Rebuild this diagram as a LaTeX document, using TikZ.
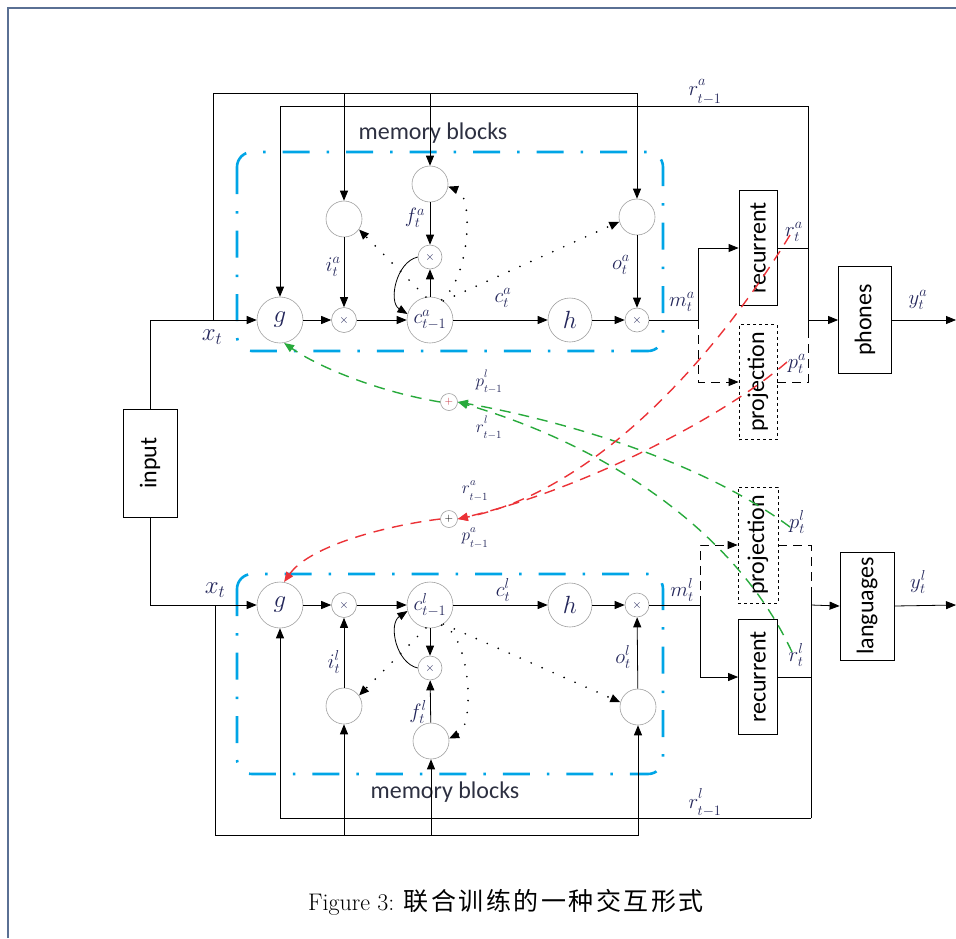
\documentclass[tikz,border=0pt]{standalone}
\usepackage{fontspec}
\usepackage{graphicx}
\setsansfont{Carlito}
\newfontfamily\cjkfont[LetterSpace=10]{Noto Sans CJK SC}
\usetikzlibrary{arrows.meta}
\definecolor{labcol}{RGB}{35,38,90}
\definecolor{ddblue}{RGB}{0,165,230}
\definecolor{grn}{RGB}{40,170,60}
\definecolor{rd}{RGB}{235,50,55}
\definecolor{framecol}{RGB}{90,112,148}
\newcommand{\lowsub}[1]{\raisebox{-2.5pt}{$\scriptstyle #1$}}
\newcommand{\highsup}[1]{\raisebox{2pt}{$\scriptstyle #1$}}
\tikzset{
  arr/.style={-{Triangle[length=10pt,width=8pt]}},
  circ/.style={circle, draw=gray!75, line width=0.6pt, inner sep=0pt, minimum size=#1, text=labcol},
  lab/.style={text=labcol, inner sep=0pt, font=\fontsize{21}{23}\selectfont},
  slab/.style={text=labcol, inner sep=0pt, font=\fontsize{16}{18}\selectfont},
  blk/.style={draw, line width=0.8pt, inner sep=0pt, font=\sffamily\fontsize{24}{26}\selectfont},
  dblk/.style={blk, dashed},
  ddash/.style={draw=ddblue, line width=2.6pt, dash pattern=on 27pt off 17pt on 2.5pt off 17pt, rounded corners=15pt},
  dots/.style={line width=1.9pt, line cap=round, dash pattern=on 0pt off 12pt, -{Triangle[length=10pt,width=8pt]}},
  gdash/.style={draw=grn, line width=1.4pt, dash pattern=on 11pt off 8pt, -{Triangle[length=10pt,width=8pt]}, color=grn},
  rdash/.style={draw=rd, line width=1.4pt, dash pattern=on 11pt off 8pt, -{Triangle[length=10pt,width=8pt]}, color=rd},
  mblab/.style={text={rgb,255:red,45;green,48;blue,65}, inner sep=0pt, font=\sffamily\fontsize{24}{26}\selectfont},
}
\begin{document}
\begin{tikzpicture}[x=1pt,y=-1pt, line width=0.8pt]
\useasboundingbox (0,0) rectangle (956,938);
\draw[framecol, line width=1.5pt] (8,938) -- (8,8) -- (956,8);

% ---------- memory blocks boxes
\draw[ddash] (237,152) rectangle (663,351);
\draw[ddash] (237,574) rectangle (663,774);
\node[mblab] (mbA) at (433,133) {memory blocks};
\node[mblab] (mbL) at (445,792) {memory blocks};

% ---------- top circles
\node[circ=46pt, font=\fontsize{30}{32}\selectfont] (ga) at (280,320) {$g$};
\node[circ=25pt, font=\fontsize{12}{12}\selectfont] (ma1) at (344,320) {$\times$};
\node[circ=46pt, font=\fontsize{21}{23}\selectfont] (ca) at (430,320) {$c^a_{t-1}$};
\node[circ=44pt, font=\fontsize{30}{32}\selectfont] (ha) at (570,320) {$h$};
\node[circ=24pt, font=\fontsize{12}{12}\selectfont] (moa) at (637,320) {$\times$};
\node[circ=36pt] (ia) at (344,219) {};
\node[circ=36pt] (fa) at (430,184) {};
\node[circ=24pt, font=\fontsize{12}{12}\selectfont] (fma) at (430,257) {$\times$};
\node[circ=36pt] (oa) at (637,217) {};

% ---------- bottom circles
\node[circ=46pt, font=\fontsize{30}{32}\selectfont] (gl) at (280,605) {$g$};
\node[circ=25pt, font=\fontsize{12}{12}\selectfont] (ml1) at (344,605) {$\times$};
\node[circ=46pt, font=\fontsize{21}{23}\selectfont] (cl) at (430,605) {$c^l_{t-1}$};
\node[circ=44pt, font=\fontsize{30}{32}\selectfont] (hl) at (570,605) {$h$};
\node[circ=24pt, font=\fontsize{12}{12}\selectfont] (mol) at (637,605) {$\times$};
\node[circ=36pt] (il) at (344,706) {};
\node[circ=36pt] (fl) at (431,741) {};
\node[circ=24pt, font=\fontsize{12}{12}\selectfont] (fml) at (430,668) {$\times$};
\node[circ=36pt] (ol) at (638,707) {};

% ---------- blocks
\node[blk, minimum width=54pt, minimum height=108pt] (inp) at (150,463) {\rotatebox{90}{input}};
\node[blk, minimum width=38pt, minimum height=115pt] (recA) at (758,248) {\rotatebox{90}{recurrent}};
\node[dblk, minimum width=38pt, minimum height=115pt] (projA) at (758,382) {\rotatebox{90}{projection}};
\node[blk, minimum width=53pt, minimum height=107pt] (phon) at (865,320) {\rotatebox{90}{phones}};
\node[dblk, minimum width=40pt, minimum height=116pt] (projL) at (758,545) {\rotatebox{90}{projection}};
\node[blk, minimum width=39pt, minimum height=115pt] (recL) at (758,677) {\rotatebox{90}{recurrent}};
\node[blk, minimum width=54pt, minimum height=108pt] (lang) at (867,606) {\rotatebox{90}{languages}};

% ---------- coordinates
\coordinate (jxa) at (213,320);
\coordinate (ta) at (213,93);
\coordinate (rtop) at (808,106);
\coordinate (ra) at (808,248);
\coordinate (jpa) at (808,320);
\coordinate (renda) at (808,332);
\coordinate (jma) at (698,320);
\coordinate (ya) at (956,320);
\coordinate (jxl) at (215,605);
\coordinate (bl) at (215,835);
\coordinate (rbot) at (811,818);
\coordinate (rl) at (811,677);
\coordinate (jpl) at (811,605);
\coordinate (rendl) at (811,592);
\coordinate (jml) at (700,605);
\coordinate (yl) at (956,605);

% ---------- top wiring
\draw[arr] (inp.north) |- (ga.west);
\draw[arr] (jxa) -- (ta) -| (oa.north);
\draw[arr] (ia |- ta) -- (ia.north);
\draw[arr] (fa |- ta) -- (fa.north);
\draw (rtop) -- (renda);
\draw[arr] (rtop) -| (ga.north);
\draw (recA.east) -- (ra);
\draw[arr] (jpa) -- (phon.west);
\draw[arr] (phon.east) -- (ya);
\draw (moa.east) -- (jma);
\draw[arr] (jma) |- (recA.west);
\draw[arr, dash pattern=on 9pt off 6pt] (jma) |- (projA.west);
\draw[dash pattern=on 9pt off 6pt] (projA.east) -| (renda);

\draw[arr] (ga) -- (ma1);
\draw[arr] (ma1) -- (ca);
\draw[arr] (ca) -- (ha);
\draw[arr] (ha) -- (moa);
\draw[arr] (ia) -- (ma1);
\draw[arr] (fa) -- (fma);
\draw[arr] (ca) -- (fma);
\draw[arr] (oa) -- (moa);
\draw[arr] (fma.west) .. controls (396,262) and (388,302) .. (ca.165);
\draw[dots] (ca.100) -- (ia.-35);
\draw[dots] (ca.60) .. controls (470,278) and (474,196) .. (fa.-8);
\draw[dots] (ca.55) -- (oa.195);

% ---------- bottom wiring
\draw[arr] (inp.south) |- (gl.west);
\draw[arr] (jxl) -- (bl) -| (ol.south);
\draw[arr] (il |- bl) -- (il.south);
\draw[arr] (fl |- bl) -- (fl.south);
\draw (rbot) -- (rendl);
\draw[arr] (rbot) -| (gl.south);
\draw (recL.east) -- (rl);
\draw[arr] (jpl) -- (lang.west);
\draw[arr] (lang.east) -- (yl);
\draw (mol.east) -- (jml);
\draw[arr] (jml) |- (recL.west);
\draw[arr, dash pattern=on 9pt off 6pt] (jml) |- (projL.west);
\draw[dash pattern=on 9pt off 6pt] (projL.east) -| (rendl);

\draw[arr] (gl) -- (ml1);
\draw[arr] (ml1) -- (cl);
\draw[arr] (cl) -- (hl);
\draw[arr] (hl) -- (mol);
\draw[arr] (il) -- (ml1);
\draw[arr] (fl) -- (fml);
\draw[arr] (cl) -- (fml);
\draw[arr] (ol) -- (mol);
\draw[arr] (fml.west) .. controls (396,663) and (388,624) .. (cl.195);
\draw[dots] (cl.-100) -- (il.35);
\draw[dots] (cl.-60) .. controls (470,632) and (476,726) .. (fl.8);
\draw[dots] (cl.-55) -- (ol.165);

% ---------- cross connections
\node[circle, draw=gray!75, line width=0.6pt, inner sep=0pt, minimum size=17pt, text=rd!80!labcol, font=\fontsize{11}{11}\selectfont] (pg) at (449,402) {$+$};
\node[circle, draw=gray!75, line width=0.6pt, inner sep=0pt, minimum size=17pt, text=black, font=\fontsize{11}{11}\selectfont] (pr) at (449,519) {$+$};

\coordinate (spl) at (790,527);
\coordinate (srl) at (792,652);
\coordinate (sra) at (790,235);
\coordinate (spa) at (787,362);

\draw[gdash] (spl) .. controls (700,460) and (560,420) .. (pg.east);
\draw[gdash] (srl) .. controls (740,540) and (620,450) .. (pg.east);
\draw[gdash] (pg.west) .. controls (380,392) and (320,368) .. (ga.-80);

\draw[rdash] (sra) .. controls (720,350) and (600,490) .. (pr.east);
\draw[rdash] (spa) .. controls (720,420) and (580,490) .. (pr.east);
\draw[rdash] (pr.west) .. controls (390,525) and (310,545) .. (gl.80);

% ---------- labels top
\node[lab] (l1) at (705,92) {$r^{\highsup{a}}_{\lowsub{t-1}}$};
\node[lab] (l2) at (333,267) {$i^a_t$};
\node[lab] (l3) at (415,218) {$f^a_t$};
\node[lab] (l4) at (621,265) {$o^a_t$};
\node[lab, font=\fontsize{23}{25}\selectfont] (l5) at (212,337) {$x_t$};
\node[lab] (l6) at (503,298) {$c^a_t$};
\node[lab] (l7) at (682,302) {$m^a_t$};
\node[lab] (l8) at (794,232) {$r^a_t$};
\node[lab] (l9) at (797,364) {$p^a_t$};
\node[lab] (l10) at (918,300) {$y^a_t$};
% labels cross
\node[slab] (l11) at (489,382) {$p^{\highsup{l}}_{\lowsub{t-1}}$};
\node[slab] (l12) at (489,428) {$r^{\highsup{l}}_{\lowsub{t-1}}$};
\node[slab] (l13) at (475,491) {$r^{\highsup{a}}_{\lowsub{t-1}}$};
\node[slab] (l14) at (475,538) {$p^{\highsup{a}}_{\lowsub{t-1}}$};
% labels bottom
\node[lab, font=\fontsize{23}{25}\selectfont] (l15) at (215,590) {$x_t$};
\node[lab] (l16) at (503,590) {$c^l_t$};
\node[lab] (l17) at (682,590) {$m^l_t$};
\node[lab] (l18) at (797,522) {$p^l_t$};
\node[lab] (l19) at (796,655) {$r^l_t$};
\node[lab] (l20) at (918,582) {$y^l_t$};
\node[lab] (l21) at (334,662) {$i^l_t$};
\node[lab] (l22) at (418,712) {$f^l_t$};
\node[lab] (l23) at (623,657) {$o^l_t$};
\node[lab] (l24) at (705,803) {$r^{\highsup{l}}_{\lowsub{t-1}}$};

% ---------- caption
\node[inner sep=0pt, font=\fontsize{24}{26}\selectfont] (cap) at (506,902) {Figure 3: {\cjkfont\fontsize{25}{27}\selectfont 联合训练的一种交互形式}};
\end{tikzpicture}
\end{document}
